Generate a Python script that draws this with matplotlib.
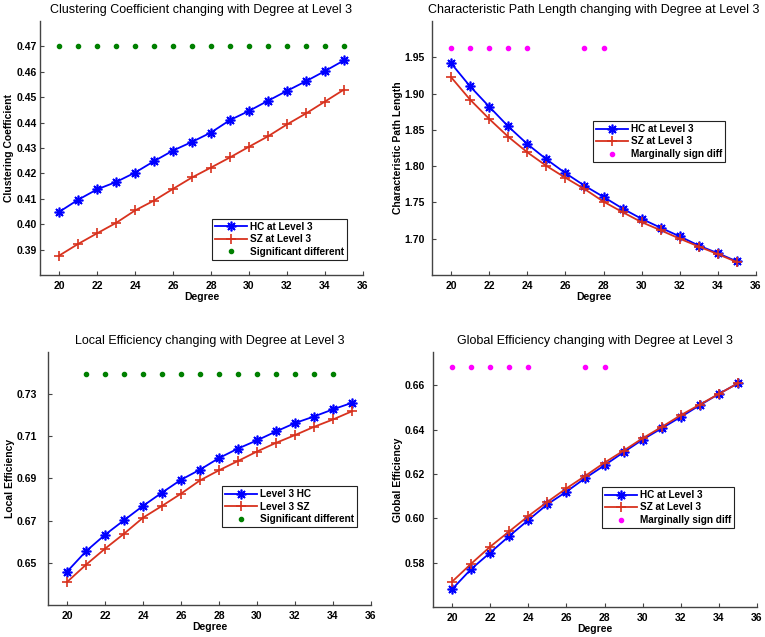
import matplotlib.pyplot as plt
import numpy as np

plt.rcParams['font.family'] = ['Liberation Sans', 'DejaVu Sans']

degree = list(range(20, 36))

# Clustering coefficient
cc_hc = [0.4048, 0.4096, 0.4137, 0.4166, 0.4203, 0.4248, 0.4290, 0.4324,
         0.4361, 0.4410, 0.4446, 0.4486, 0.4525, 0.4563, 0.4603, 0.4645]
cc_sz = [0.3876, 0.3922, 0.3964, 0.4005, 0.4054, 0.4093, 0.4139, 0.4184,
         0.4223, 0.4263, 0.4305, 0.4346, 0.4393, 0.4436, 0.4483, 0.4530]
cc_sig_x = list(range(20, 36))
cc_sig_y = 0.47

# Characteristic path length
cpl_hc = [1.9418, 1.9099, 1.8820, 1.8547, 1.8305, 1.8095, 1.7904, 1.7731,
          1.7576, 1.7416, 1.7274, 1.7151, 1.7032, 1.6905, 1.6800, 1.6687]
cpl_sz = [1.9226, 1.8916, 1.8651, 1.8405, 1.8191, 1.8004, 1.7840, 1.7685,
          1.7511, 1.7366, 1.7228, 1.7116, 1.7000, 1.6892, 1.6787, 1.6678]
cpl_sig_x = [20, 21, 22, 23, 24, 27, 28]
cpl_sig_y = 1.9628

# Local efficiency
le_hc = [0.6458, 0.6555, 0.6633, 0.6702, 0.6770, 0.6833, 0.6894, 0.6942,
         0.6997, 0.7042, 0.7081, 0.7123, 0.7163, 0.7194, 0.7228, 0.7259]
le_sz = [0.6409, 0.6491, 0.6567, 0.6638, 0.6714, 0.6770, 0.6828, 0.6891,
         0.6939, 0.6983, 0.7028, 0.7069, 0.7106, 0.7145, 0.7180, 0.7219]
le_sig_x = list(range(21, 35))
le_sig_y = 0.7395

# Global efficiency
ge_hc = [0.5680, 0.5771, 0.5845, 0.5920, 0.5992, 0.6063, 0.6120, 0.6182,
         0.6239, 0.6298, 0.6355, 0.6406, 0.6457, 0.6510, 0.6561, 0.6609]
ge_sz = [0.5714, 0.5795, 0.5872, 0.5941, 0.6010, 0.6074, 0.6135, 0.6192,
         0.6251, 0.6305, 0.6361, 0.6412, 0.6465, 0.6513, 0.6561, 0.6609]
ge_sig_x = [20, 21, 22, 23, 24, 27, 28]
ge_sig_y = 0.6683

W, H = 765, 637
fig = plt.figure(figsize=(W / 100, H / 100), dpi=100)
fig.patch.set_facecolor('white')

blue = '#0000ff'
red = '#d8321e'
green = '#008000'
magenta = '#ff00ff'

panels = [
    dict(box=(40, 363, 21, 275), title='Clustering Coefficient changing with Degree at Level 3',
         ylabel='Clustering Coefficient', hc=cc_hc, sz=cc_sz,
         labels=('HC at Level 3', 'SZ at Level 3', 'Significant different'),
         sig=(cc_sig_x, cc_sig_y, green), ylim=(0.38, 0.48),
         yticks=np.arange(0.39, 0.4751, 0.01), leg=(212, 219), ypad=2, ylpad=2),
    dict(box=(432, 756, 21, 275), title='Characteristic Path Length changing with Degree at Level 3',
         ylabel='Characteristic Path Length', hc=cpl_hc, sz=cpl_sz,
         labels=('HC at Level 3', 'SZ at Level 3', 'Marginally sign diff'),
         sig=(cpl_sig_x, cpl_sig_y, magenta), ylim=(1.65, 2.0),
         yticks=np.arange(1.70, 1.951, 0.05), leg=(593, 121), ypad=5, ylpad=1),
    dict(box=(48, 371, 352, 605), title='Local Efficiency changing with Degree at Level 3',
         ylabel='Local Efficiency', hc=le_hc, sz=le_sz,
         labels=('Level 3 HC', 'Level 3 SZ', 'Significant different'),
         sig=(le_sig_x, le_sig_y, green), ylim=(0.63, 0.75),
         yticks=np.arange(0.65, 0.7301, 0.02), leg=(222, 486), ypad=8, ylpad=1),
    dict(box=(433, 757, 352, 607), title='Global Efficiency changing with Degree at Level 3',
         ylabel='Global Efficiency', hc=ge_hc, sz=ge_sz,
         labels=('HC at Level 3', 'SZ at Level 3', 'Marginally sign diff'),
         sig=(ge_sig_x, ge_sig_y, magenta), ylim=(0.56, 0.675),
         yticks=np.arange(0.58, 0.6601, 0.02), leg=(602, 487), ypad=6, ylpad=1),
]

for p in panels:
    l, r, t, b = p['box']
    ax = fig.add_axes([l / W, 1 - b / H, (r - l) / W, (b - t) / H])
    ax.plot(degree, p['hc'], color=blue, marker=(8, 2, 0), markersize=7,
            markeredgewidth=1.2, linewidth=1.3, label=p['labels'][0])
    ax.plot(degree, p['sz'], color=red, marker='+', markersize=7, markeredgewidth=1.2,
            linewidth=1.3, label=p['labels'][1])
    sx, sy, sc = p['sig']
    ax.plot(sx, [sy] * len(sx), linestyle='none', marker='.', color=sc, markersize=6,
            label=p['labels'][2])

    ax.set_xlim(19, 36)
    ax.set_ylim(*p['ylim'])
    ax.set_xticks(range(20, 37, 2))
    ax.set_yticks(p['yticks'])
    ax.set_yticklabels(['%.2f' % v for v in p['yticks']])
    for side in ('top', 'right'):
        ax.spines[side].set_visible(False)
    for side in ('left', 'bottom'):
        ax.spines[side].set_color('#444444')
        ax.spines[side].set_linewidth(1.0)
    ax.tick_params(direction='in', length=3, color='#444444', labelsize=7.5)
    ax.tick_params(axis='y', pad=p['ypad'])
    ax.tick_params(axis='x', pad=4)
    for lab in ax.get_xticklabels() + ax.get_yticklabels():
        lab.set_fontweight('bold')

    ax.set_title(p['title'], fontsize=9, pad=6)
    ax.set_xlabel('Degree', fontsize=7.5, fontweight='bold', labelpad=1)
    ax.set_ylabel(p['ylabel'], fontsize=7.5, fontweight='bold', labelpad=p['ylpad'])

    lx, ly = p['leg']
    leg = ax.legend(loc='upper left', bbox_to_anchor=(lx / W, 1 - ly / H),
                    bbox_transform=fig.transFigure, fancybox=False, framealpha=1,
                    edgecolor='#222222', borderpad=0.3, handlelength=3.2,
                    handletextpad=0.3, labelspacing=0.25, borderaxespad=0,
                    prop={'weight': 'bold', 'size': 7.2})
    leg.get_frame().set_linewidth(0.8)

fig.savefig('out.png', dpi=100)
